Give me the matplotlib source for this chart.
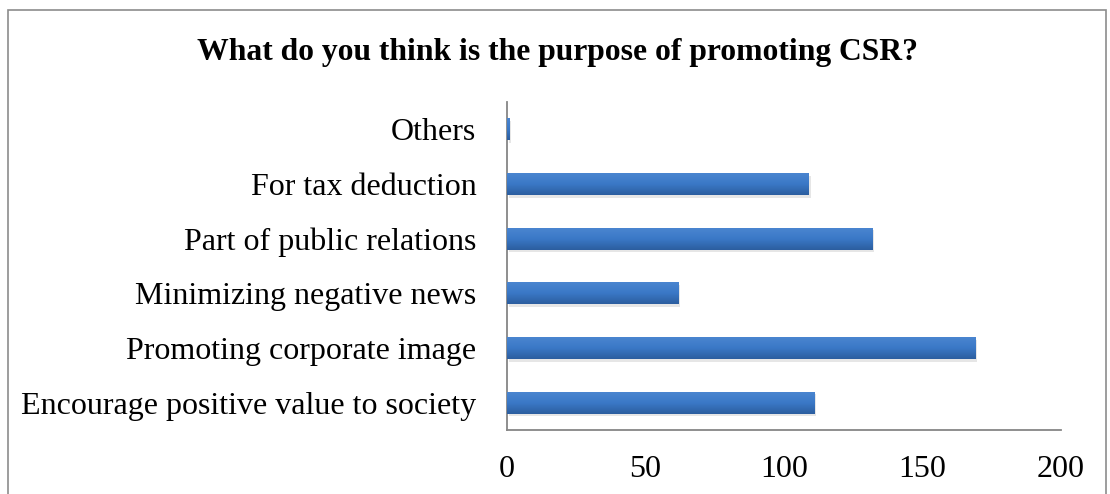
import numpy as np
import matplotlib
matplotlib.use("Agg")
import matplotlib.pyplot as plt
from matplotlib.patches import Rectangle

# data (bottom to top)
categories = ["Encourage positive value to society", "Promoting corporate image",
              "Minimizing negative news", "Part of public relations",
              "For tax deduction", "Others"]
counts = [111, 169, 62, 132, 109, 1]
xticks = [0, 50, 100, 150, 200]

plt.rcParams['font.family'] = ['Liberation Serif', 'DejaVu Serif']

fig = plt.figure(figsize=(11.1, 4.94), dpi=100)
ax = fig.add_axes([0.4568, 0.1296, 0.4991, 0.6639])

# outer chart frame (bottom edge is cut off in the reference)
fig.patches.append(Rectangle((8 / 1110, -0.05), 1098 / 1110, 1.05 - 10 / 494,
                             transform=fig.transFigure, fill=False,
                             edgecolor='#8c8c8c', linewidth=1.2))

y = np.arange(len(categories))
h = 0.4

# soft shadow under bars
ax.barh(y - 0.05, counts, height=h, left=0.6, color='#b8b8b8', alpha=0.35, zorder=1)
bars = ax.barh(y, counts, height=h, color='#3a73c0', zorder=2)

# vertical gradient for a glossy look
grad = np.linspace(0, 1, 64).reshape(-1, 1)
cmap = matplotlib.colors.LinearSegmentedColormap.from_list(
    'g', ['#2c5e9f', '#3a78c6', '#4a85d0'])
for b in bars:
    x0, y0 = b.get_x(), b.get_y()
    w, hh = b.get_width(), b.get_height()
    im = ax.imshow(grad, extent=[x0, x0 + w, y0, y0 + hh], aspect='auto',
                   cmap=cmap, origin='lower', zorder=3)
    im.set_clip_path(b)

ax.set_xlim(0, 200)
ax.set_ylim(-0.5, len(categories) - 0.5)
ax.set_xticks(xticks)
ax.set_yticks(y)
ax.set_yticklabels(categories)
ax.tick_params(axis='both', length=0, labelsize=23)
ax.tick_params(axis='x', pad=18)
ax.tick_params(axis='y', pad=22)

for s in ['top', 'right']:
    ax.spines[s].set_visible(False)
for s in ['left', 'bottom']:
    ax.spines[s].set_color('#868686')
    ax.spines[s].set_linewidth(1.3)

fig.text(0.502, 0.893, "What do you think is the purpose of promoting CSR?",
         ha='center', va='center', fontsize=22.8, fontweight='bold')

fig.savefig("out.png", dpi=100)
